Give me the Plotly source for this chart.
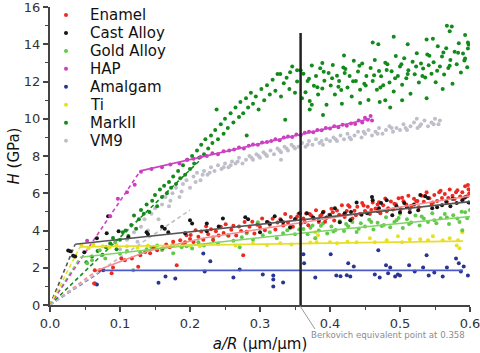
import plotly.graph_objects as go

# ---------------- data (a/R, H in GPa) ----------------
series_names = ["Enamel", "Cast Alloy", "Gold Alloy", "HAP", "Amalgam", "Ti", "MarkII", "VM9"]

enamel_pts = [
    (0.063,1.15),(0.064,1.86),(0.071,1.86),(0.088,1.70),(0.090,2.02),(0.102,2.50),(0.107,2.40),(0.117,2.50),
    (0.126,2.05),(0.129,2.67),(0.136,2.85),(0.143,2.78),(0.148,3.05),(0.153,2.94),(0.161,3.04),(0.166,3.25),
    (0.171,3.10),(0.176,3.40),(0.181,2.13),(0.186,3.47),(0.190,3.25),(0.193,3.37),(0.195,3.74),(0.200,3.55),
    (0.201,3.76),(0.205,3.38),(0.208,4.02),(0.212,3.67),(0.216,3.95),(0.219,3.51),(0.223,4.23),(0.226,3.80),
    (0.230,4.07),(0.233,3.49),(0.237,3.96),(0.241,3.73),(0.244,4.20),(0.248,3.87),(0.251,4.34),(0.255,3.72),
    (0.259,4.04),(0.262,4.26),(0.266,3.73),(0.270,4.21),(0.273,3.97),(0.276,2.67),(0.278,4.46),(0.281,3.93),
    (0.285,4.20),(0.289,4.47),(0.292,3.84),(0.296,4.31),(0.300,4.19),(0.303,4.65),(0.307,4.02),(0.311,4.44),
    (0.314,4.31),(0.318,4.63),(0.322,4.06),(0.325,4.43),(0.329,4.60),(0.333,4.27),(0.336,4.89),(0.340,4.41),
    (0.344,4.73),(0.347,4.20),(0.351,4.63),(0.355,4.90),(0.358,4.37),(0.362,4.64),(0.366,4.91),(0.369,4.28),
    (0.373,4.80),(0.377,4.62),(0.380,5.09),(0.384,4.46),(0.388,4.84),(0.391,5.01),(0.395,4.68),(0.399,4.85),
    (0.402,5.17),(0.406,4.54),(0.410,5.07),(0.413,4.84),(0.417,5.36),(0.421,4.73),(0.424,5.05),(0.428,5.27),
    (0.432,4.64),(0.435,5.06),(0.439,5.28),(0.443,4.90),(0.446,5.47),(0.450,5.05),(0.454,5.27),(0.457,4.89),
    (0.461,5.51),(0.465,5.18),(0.468,5.40),(0.472,4.92),(0.476,5.35),(0.479,5.72),(0.483,5.19),(0.487,5.56),
    (0.490,5.13),(0.494,5.41),(0.498,5.73),(0.501,5.15),(0.505,5.57),(0.509,5.40),(0.512,5.86),(0.516,5.33),
    (0.520,5.71),(0.523,5.58),(0.527,5.25),(0.531,5.87),(0.534,5.54),(0.538,6.06),(0.542,5.73),(0.545,5.44),
    (0.549,5.91),(0.553,5.58),(0.556,6.05),(0.560,5.74),(0.564,5.96),(0.567,5.53),(0.571,6.20),(0.575,5.87),
    (0.578,5.69),(0.582,6.16),(0.586,5.83),(0.589,6.05),(0.593,6.37),(0.596,5.84),(0.598,6.21),(0.597,6.44),
    (0.353,4.74),(0.364,4.45),(0.371,4.89),(0.386,4.78),(0.393,4.47),(0.404,4.98),(0.419,4.82),(0.426,5.36),
    (0.437,4.82),(0.448,5.34),(0.459,5.10),(0.470,5.52),(0.481,5.03),(0.492,5.44),(0.503,5.76),(0.514,5.17),
    (0.525,5.59),(0.536,5.85),(0.547,5.51),(0.558,6.13),(0.569,5.74),(0.580,6.05),(0.591,5.72),(0.599,6.00),
]

cast_pts = [
    (0.026,2.93),(0.029,2.88),(0.033,2.65),(0.036,2.60),(0.049,2.83),(0.067,3.58),(0.083,4.77),(0.081,3.85),
    (0.098,3.96),(0.112,3.64),(0.138,3.90),(0.140,3.80),(0.160,4.20),(0.164,4.10),(0.169,3.90),(0.193,3.85),
    (0.200,4.55),(0.203,4.38),(0.224,4.38),(0.224,3.96),(0.241,4.22),(0.247,4.65),(0.279,4.71),(0.283,4.60),
    (0.300,3.90),(0.314,4.38),(0.321,4.77),(0.333,4.44),(0.343,4.17),(0.357,4.93),(0.367,4.93),(0.376,4.70),
    (0.384,4.55),(0.390,4.98),(0.400,4.82),(0.407,5.20),(0.414,4.44),(0.421,4.93),(0.429,4.55),(0.438,5.50),
    (0.445,4.85),(0.453,4.93),(0.460,5.80),(0.461,5.63),(0.468,5.05),(0.473,5.47),(0.481,5.63),(0.489,4.82),
    (0.495,5.30),(0.500,4.98),(0.506,5.47),(0.514,4.98),(0.520,5.40),(0.526,5.09),(0.529,5.90),(0.536,5.84),
    (0.540,5.74),(0.546,5.20),(0.553,5.25),(0.560,5.36),(0.566,5.55),(0.572,5.30),(0.581,5.47),(0.589,5.63),
    (0.593,5.79),(0.598,5.50),(0.575,5.70),(0.510,5.25),(0.470,5.20),(0.430,5.00),(0.395,4.70),(0.350,4.60),
    (0.330,4.55),(0.310,4.45),
]

gold_pts = [
    (0.053,2.24),(0.060,2.40),(0.071,2.94),(0.079,2.50),(0.093,3.37),(0.100,2.75),(0.110,2.90),(0.119,1.86),
    (0.129,2.83),(0.138,3.00),(0.145,3.10),(0.153,3.20),(0.160,2.95),(0.176,2.78),(0.176,3.20),(0.188,3.10),
    (0.195,3.15),(0.203,3.04),(0.212,3.37),(0.220,3.20),(0.233,3.64),(0.240,3.30),(0.254,3.74),(0.262,3.45),
    (0.271,3.10),(0.274,3.64),(0.281,3.85),(0.290,3.50),(0.297,4.44),(0.304,3.74),(0.314,3.90),(0.324,3.58),
    (0.333,3.85),(0.339,4.01),(0.343,4.12),(0.350,3.80),(0.356,4.05),(0.362,4.08),(0.368,3.80),(0.375,4.27),
    (0.379,3.58),(0.384,4.00),(0.390,4.37),(0.396,3.84),(0.402,4.21),(0.408,4.03),(0.414,4.50),(0.420,3.97),
    (0.426,4.23),(0.432,4.45),(0.438,3.92),(0.444,4.39),(0.450,4.21),(0.456,4.58),(0.462,4.05),(0.468,4.42),
    (0.474,4.24),(0.480,4.71),(0.486,4.18),(0.492,4.45),(0.498,4.67),(0.504,4.14),(0.510,4.61),(0.516,4.43),
    (0.522,4.80),(0.528,4.27),(0.534,4.64),(0.540,4.46),(0.546,4.92),(0.552,4.39),(0.558,4.66),(0.564,4.88),
    (0.570,4.35),(0.576,4.82),(0.582,4.64),(0.588,5.01),(0.589,4.01),(0.593,4.98),(0.596,4.66),(0.600,5.10),
    (0.372,4.15),(0.387,4.25),(0.405,3.95),(0.423,4.35),(0.441,4.10),(0.459,4.45),(0.477,4.30),(0.495,4.55),
    (0.513,4.35),(0.531,4.75),(0.549,4.55),(0.567,4.70),(0.585,4.45),(0.500,4.90),(0.430,4.60),
]

hap_pts = [
    (0.053,3.45),(0.086,4.77),(0.097,5.70),(0.110,6.05),(0.121,6.45),
    (0.130,7.15),(0.145,7.30),(0.160,7.40),(0.172,7.55),(0.185,7.60),(0.196,7.80),(0.205,7.85),(0.215,7.95),
    (0.224,8.00),(0.232,8.15),(0.240,8.10),(0.248,8.25),(0.256,8.30),(0.263,8.35),(0.270,8.45),(0.277,8.40),
    (0.284,8.55),(0.290,8.62),(0.297,8.60),(0.303,8.72),(0.310,8.75),(0.316,8.80),(0.322,8.90),(0.328,8.85),
    (0.334,9.00),(0.340,9.05),(0.346,9.02),(0.352,9.15),(0.358,9.12),(0.364,9.25),(0.370,9.30),(0.376,9.28),
    (0.382,9.40),(0.388,9.38),(0.394,9.50),(0.400,9.48),(0.406,9.60),(0.412,9.55),(0.418,9.68),(0.424,9.62),
    (0.430,9.75),(0.436,9.72),(0.441,9.90),(0.446,9.80),(0.450,10.05),(0.454,9.95),(0.458,10.15),(0.460,9.90),
]

amalgam_pts = [
    (0.064,1.15),(0.067,1.10),(0.076,1.86),(0.155,1.20),(0.165,1.53),(0.179,1.42),(0.219,2.77),(0.229,2.35),
    (0.221,1.80),(0.262,1.48),(0.271,1.90),(0.304,1.64),(0.319,1.59),(0.319,1.37),(0.319,1.00),(0.333,1.21),
    (0.362,2.72),(0.363,2.24),(0.379,1.48),(0.401,2.72),(0.409,1.59),(0.415,1.55),(0.424,1.60),(0.426,2.24),
    (0.434,2.07),(0.429,1.53),(0.464,1.64),(0.469,2.94),(0.471,1.48),(0.480,2.13),(0.483,1.70),(0.486,2.02),
    (0.493,1.53),(0.497,1.64),(0.500,1.58),(0.513,2.13),(0.521,1.80),(0.533,2.02),(0.538,2.67),(0.541,1.59),
    (0.549,1.75),(0.561,1.53),(0.567,2.02),(0.580,2.50),(0.584,2.24),(0.587,1.80),(0.591,2.07),(0.597,1.59),
]

ti_pts = [
    (0.045,3.20),(0.055,3.05),(0.062,3.25),(0.075,3.15),(0.085,3.10),(0.095,3.22),(0.110,3.15),(0.125,3.08),
    (0.140,3.20),(0.150,3.12),(0.175,3.25),(0.200,3.18),(0.214,3.15),(0.240,3.28),(0.265,3.20),(0.290,3.30),
    (0.310,3.22),(0.329,3.31),(0.345,3.25),(0.372,3.35),(0.379,3.58),(0.379,3.90),(0.381,3.37),(0.383,3.75),
    (0.400,3.37),(0.410,3.31),(0.425,3.40),(0.438,3.37),(0.457,3.58),(0.464,3.37),(0.481,3.47),(0.497,3.69),
    (0.503,3.37),(0.514,3.53),(0.529,3.53),(0.540,3.47),(0.547,3.69),(0.561,3.47),(0.571,3.58),(0.581,3.20),
    (0.583,3.47),(0.589,3.90),(0.585,3.05),
]

markii_pts = [
    (0.052,2.3),(0.060,2.6),(0.068,2.9),(0.075,2.7),(0.080,3.1),(0.086,3.3),(0.090,3.6),(0.095,3.0),
    (0.100,3.5),(0.104,3.9),(0.108,4.0),(0.112,3.7),(0.116,4.3),(0.120,4.8),(0.123,4.1),(0.127,4.6),
    (0.130,5.1),(0.134,4.9),(0.138,5.4),(0.142,5.0),(0.146,5.6),(0.150,5.9),(0.153,5.3),(0.157,6.2),
    (0.160,5.8),(0.163,6.4),(0.167,6.0),(0.170,6.6),(0.173,6.3),(0.176,6.9),(0.180,6.5),(0.183,7.2),
    (0.186,6.8),(0.190,7.5),(0.193,7.0),(0.196,7.8),(0.200,7.3),(0.203,8.0),(0.206,7.6),(0.210,8.3),
    (0.213,7.9),(0.216,8.6),(0.220,8.1),(0.222,8.9),(0.226,8.4),(0.230,9.1),(0.232,8.7),(0.236,9.4),
    (0.240,8.9),(0.238,10.5),(0.244,9.7),(0.248,9.2),(0.250,10.0),(0.254,9.5),(0.258,10.3),(0.262,9.8),
    (0.265,10.6),(0.270,10.1),(0.272,10.9),(0.276,10.3),(0.280,11.1),(0.283,10.6),(0.287,11.4),(0.290,10.8),
    (0.294,11.2),(0.298,10.5),(0.302,11.6),(0.306,11.0),(0.310,11.8),(0.314,11.3),(0.318,12.1),(0.322,11.5),
    (0.325,12.4),(0.330,11.2),(0.334,11.9),(0.338,12.2),(0.342,11.6),(0.346,12.8),(0.350,11.4),(0.353,12.0),
    (0.358,12.6),(0.360,11.1),(0.281,9.1),(0.336,9.94),(0.343,12.5),(0.329,12.4),(0.353,12.6),
    (0.362,12.41),(0.365,11.42),(0.368,12.03),(0.371,10.95),(0.374,12.86),(0.377,11.77),(0.380,12.29),(0.383,11.30),
    (0.386,12.71),(0.389,11.62),(0.392,12.04),(0.395,10.75),(0.398,12.46),(0.401,11.78),(0.404,12.89),(0.407,11.30),
    (0.410,12.31),(0.413,12.03),(0.416,11.54),(0.419,12.75),(0.422,12.67),(0.425,11.68),(0.428,12.29),(0.431,11.20),
    (0.434,13.12),(0.437,12.03),(0.440,12.54),(0.443,11.56),(0.446,12.97),(0.449,11.88),(0.452,12.29),(0.455,11.01),
    (0.458,12.72),(0.461,12.03),(0.464,13.15),(0.467,11.56),(0.470,12.57),(0.473,12.28),(0.476,11.80),(0.479,13.01),
    (0.482,12.92),(0.485,11.94),(0.488,12.55),(0.491,11.46),(0.494,13.37),(0.497,12.29),(0.500,12.80),(0.503,11.83),
    (0.506,13.25),(0.509,12.18),(0.512,12.61),(0.515,11.34),(0.518,13.06),(0.521,12.39),(0.524,13.52),(0.527,11.94),
    (0.530,12.97),(0.533,12.70),(0.536,12.22),(0.539,13.45),(0.542,13.38),(0.545,12.41),(0.548,13.03),(0.551,11.96),
    (0.554,13.89),(0.557,12.81),(0.560,13.34),(0.563,12.37),(0.566,13.79),(0.569,12.72),(0.572,13.15),(0.575,11.88),
    (0.578,13.60),(0.581,12.93),(0.584,14.06),(0.587,12.48),(0.590,13.51),(0.593,13.24),(0.596,12.76),(0.598,13.98),
    (0.370,12.15),(0.382,11.69),(0.391,12.53),(0.403,12.18),(0.412,11.72),(0.421,12.46),(0.433,12.01),(0.442,12.85),
    (0.451,11.79),(0.463,12.34),(0.472,11.68),(0.481,12.62),(0.493,12.17),(0.502,12.92),(0.511,12.40),(0.523,12.81),
    (0.532,12.29),(0.541,12.87),(0.553,12.58),(0.562,13.56),(0.571,12.84),(0.583,13.55),(0.592,13.13),(0.597,13.77),
    (0.567,15.0),(0.574,14.95),(0.571,14.7),(0.593,14.5),(0.538,14.25),(0.547,14.3),(0.461,14.1),(0.469,14.0),
    (0.491,14.4),(0.511,14.0),(0.390,10.2),(0.486,10.6),(0.471,10.9),(0.538,11.1),(0.561,11.6),(0.417,10.8),
    (0.443,10.85),(0.371,10.5),(0.374,10.75),(0.503,11.0),(0.479,11.0),(0.389,13.0),(0.420,13.4),(0.597,14.1),
]

vm9_pts = [
    (0.100,3.0),(0.110,3.5),(0.120,3.9),(0.125,3.4),(0.130,4.2),(0.135,4.6),(0.140,4.0),(0.145,4.9),
    (0.150,5.2),(0.155,4.6),(0.160,5.4),(0.165,5.8),(0.170,5.3),(0.175,6.0),(0.180,6.3),(0.185,5.8),
    (0.190,6.5),(0.195,6.7),(0.200,6.3),(0.205,6.9),(0.210,7.1),(0.215,6.7),(0.220,7.2),(0.225,7.0),
    (0.230,7.4),(0.235,7.2),(0.240,7.5),(0.245,7.3),(0.250,7.6),(0.255,7.4),(0.260,7.7),(0.265,7.6),
    (0.270,7.9),(0.275,7.6),(0.280,7.8),(0.285,8.0),(0.290,7.8),(0.295,8.1),(0.300,7.9),(0.305,8.2),
    (0.310,8.0),(0.315,8.3),(0.320,8.1),(0.325,8.4),(0.330,8.2),(0.335,8.5),(0.340,8.3),(0.345,8.6),
    (0.350,8.4),(0.355,8.5),(0.360,8.7),(0.365,8.5),(0.370,8.8),(0.375,8.6),(0.380,8.9),(0.385,8.7),
    (0.390,8.6),(0.395,8.9),(0.400,8.8),(0.405,9.0),(0.410,8.8),(0.415,9.1),(0.420,8.9),(0.425,9.2),
    (0.430,8.9),(0.435,9.1),(0.440,9.3),(0.445,9.0),(0.450,9.2),(0.455,9.4),(0.460,9.1),(0.465,9.3),
    (0.470,9.5),(0.475,9.2),(0.480,9.4),(0.485,9.6),(0.490,9.3),(0.495,9.5),(0.500,9.4),(0.505,9.7),
    (0.510,9.4),(0.515,9.6),(0.520,9.8),(0.525,9.5),(0.530,9.7),(0.535,9.9),(0.540,9.6),(0.545,9.8),
    (0.550,10.0),(0.555,9.7),(0.557,9.9),(0.524,10.0),(0.330,7.8),
    (0.172,5.6),(0.188,6.1),(0.208,6.6),(0.228,7.1),(0.248,7.4),(0.268,7.7),(0.288,7.9),(0.308,8.1),
    (0.328,8.3),(0.348,8.5),(0.368,8.6),(0.388,8.8),(0.408,8.9),(0.428,9.0),(0.448,9.3),(0.468,9.2),
    (0.488,9.5),(0.508,9.5),(0.528,9.6),(0.548,9.7),(0.218,7.0),(0.258,7.5),(0.298,8.0),(0.338,8.4),
]

# knee points (end of dashed initial segment) per series
knee_x = {"Enamel": 0.067, "Cast Alloy": 0.036, "Gold Alloy": 0.043, "HAP": 0.129,
          "Amalgam": 0.075, "Ti": 0.043, "MarkII": 0.215, "VM9": 0.200}
knee_h = {"Enamel": 1.85, "Cast Alloy": 3.26, "Gold Alloy": 2.56, "HAP": 7.20,
          "Amalgam": 1.86, "Ti": 3.12, "MarkII": 7.80, "VM9": 5.10}

# fitted lines after the knee
fit_x = {"Enamel": [0.067, 0.14, 0.22, 0.60], "Cast Alloy": [0.036, 0.60],
         "Gold Alloy": [0.043, 0.186, 0.358, 0.60], "HAP": [0.129, 0.457],
         "Amalgam": [0.075, 0.59], "Ti": [0.043, 0.59]}
fit_h = {"Enamel": [1.85, 2.90, 3.60, 5.85], "Cast Alloy": [3.26, 5.55],
         "Gold Alloy": [2.56, 3.15, 3.85, 4.75], "HAP": [7.20, 10.0],
         "Amalgam": [1.86, 1.86], "Ti": [3.12, 3.43]}

berkovich = 0.358

colors = {"Enamel": "#ec2a22", "Cast Alloy": "#161616", "Gold Alloy": "#62c94a", "HAP": "#cc3cc0",
          "Amalgam": "#2a3592", "Ti": "#e8e11f", "MarkII": "#138a1c", "VM9": "#bfbfca"}
fit_colors = {"Enamel": "#f29090", "Cast Alloy": "#555555", "Gold Alloy": "#7fd466", "HAP": "#cc44c4",
              "Amalgam": "#4d5bc8", "Ti": "#e6df2a"}

points = {"Enamel": enamel_pts, "Cast Alloy": cast_pts, "Gold Alloy": gold_pts, "HAP": hap_pts,
          "Amalgam": amalgam_pts, "Ti": ti_pts, "MarkII": markii_pts, "VM9": vm9_pts}

# ---------------- figure ----------------
W, H = 480, 353
ML, MR, MT, MB = 50, 10, 7, 48
PW, PH = W - ML - MR, H - MT - MB


def px_to_paper(px, py):
    return (px - ML) / PW, (H - MB - py) / PH


fig = go.Figure()

# dashed initial segments from origin
for name in series_names:
    fig.add_trace(go.Scatter(x=[0, knee_x[name]], y=[0, knee_h[name]], mode="lines",
                             line=dict(color=fit_colors.get(name, colors[name]), width=1.6, dash="4px,3px"),
                             showlegend=False, hoverinfo="skip"))

draw_order = ["VM9", "MarkII", "Amalgam", "Ti", "Gold Alloy", "Enamel", "Cast Alloy", "HAP"]
for name in draw_order:
    pts = points[name]
    fig.add_trace(go.Scatter(x=[p[0] for p in pts], y=[p[1] for p in pts], mode="markers", name=name,
                             marker=dict(color=colors[name], size=4), showlegend=False))

for name in fit_x:
    fig.add_trace(go.Scatter(x=fit_x[name], y=fit_h[name], mode="lines",
                             line=dict(color=fit_colors[name], width=1.6),
                             showlegend=False, hoverinfo="skip"))

# legend (drawn as marker dots + text, compact row spacing like the original)
shapes = []
annotations = []
for i, name in enumerate(series_names):
    row_y = 15 + 17.95 * i
    mx, my = px_to_paper(66, row_y)
    tx, ty = px_to_paper(88, row_y)
    shapes.append(dict(type="circle", xref="paper", yref="paper", xsizemode="pixel", ysizemode="pixel",
                       xanchor=mx, yanchor=my, x0=-2, x1=2, y0=-2, y1=2,
                       fillcolor=colors[name], line=dict(width=0)))
    annotations.append(dict(text=name, xref="paper", yref="paper", x=tx, y=ty, xanchor="left",
                            yanchor="middle", showarrow=False,
                            font=dict(family="DejaVu Sans", size=15, color="#111")))

shapes.append(dict(type="line", xref="x", yref="y", x0=berkovich, x1=berkovich, y0=0, y1=14.6,
                   line=dict(color="#222", width=2.5)))
p0x, p0y = px_to_paper(300, 306)
p1x, p1y = px_to_paper(315, 329)
shapes.append(dict(type="line", xref="paper", yref="paper", x0=p0x, x1=p1x, y0=p0y, y1=p1y,
                   line=dict(color="#999", width=1)))
ax_, ay_ = px_to_paper(309, 335)
annotations.append(dict(text="Berkovich equivalent point at 0.358", xref="paper", yref="paper",
                        x=ax_, y=ay_, xanchor="left", yanchor="middle", showarrow=False,
                        font=dict(family="DejaVu Sans", size=8.6, color="#8c8c8c")))

axis_common = dict(showline=True, linewidth=2, linecolor="#444", ticks="outside", ticklen=5,
                   tickwidth=1.5, tickcolor="#444", showgrid=False, zeroline=False, mirror=False,
                   ticklabeloverflow="allow", automargin=False,
                   tickfont=dict(family="DejaVu Sans", size=13, color="#333"))

fig.update_layout(
    width=W, height=H,
    margin=dict(l=ML, r=MR, t=MT, b=MB, autoexpand=False),
    paper_bgcolor="white", plot_bgcolor="white",
    font=dict(family="DejaVu Sans", size=13, color="#222"),
    showlegend=False,
    xaxis=dict(range=[0, 0.6], dtick=0.1, tickformat=".1f",
               minor=dict(dtick=0.05, ticks="outside", ticklen=3, tickcolor="#444", tickwidth=1.2),
               title=dict(text="<i>a/R</i> (μm/μm)", font=dict(size=15, color="#111"), standoff=9),
               **axis_common),
    yaxis=dict(range=[0, 16], dtick=2,
               minor=dict(dtick=1, ticks="outside", ticklen=3, tickcolor="#444", tickwidth=1.2),
               title=dict(text="<i>H</i> (GPa)", font=dict(size=15, color="#111"), standoff=1),
               **axis_common),
    shapes=shapes,
    annotations=annotations,
)

fig.write_html("out.html")
